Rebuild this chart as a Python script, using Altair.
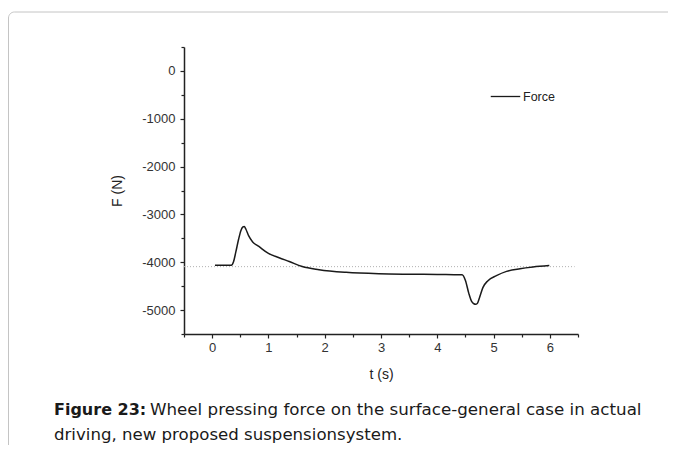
import altair as alt
import pandas as pd

# Data
t_values = [0.05, 0.20, 0.34, 0.38, 0.42, 0.47, 0.51, 0.545, 0.57, 0.60, 0.65, 0.72,
            0.83, 1.00, 1.19, 1.37, 1.60, 1.90, 2.38, 2.96, 3.50, 4.00, 4.30, 4.44,
            4.50, 4.56, 4.61, 4.65, 4.68, 4.71, 4.75, 4.81, 4.90, 5.05, 5.23, 5.47,
            5.70, 5.99]
force_values = [-4065, -4065, -4062, -3990, -3790, -3520, -3340, -3262, -3255, -3310,
                -3450, -3575, -3670, -3815, -3905, -3985, -4090, -4155, -4210, -4240,
                -4250, -4255, -4260, -4262, -4380, -4650, -4820, -4868, -4877, -4862,
                -4740, -4530, -4385, -4280, -4190, -4135, -4100, -4070]
series_name = ["Force"]
ref_level = [-4092]
ref_span = [-0.5, 6.44]

x_major = [0, 1, 2, 3, 4, 5, 6]
x_minor = [-0.5, 0.5, 1.5, 2.5, 3.5, 4.5, 5.5, 6.5]
y_major = [-5000, -4000, -3000, -2000, -1000, 0]
y_minor = [-5500, -4500, -3500, -2500, -1500, -500, 500]

caption_bold = ["Figure 23:"]
caption_line1 = ["Wheel pressing force on the surface-general case in actual"]
caption_line2 = ["driving, new proposed suspensionsystem."]

df = pd.DataFrame({"t": t_values, "F": force_values, "series": series_name * len(t_values)})
ref_df = pd.DataFrame({"x": [ref_span[0]], "x2": [ref_span[1]], "y": ref_level})

LABEL_FONT = "Liberation Sans, Arial, sans-serif"
x_scale = alt.Scale(domain=[-0.5, 6.5], nice=False, zero=False)
y_scale = alt.Scale(domain=[-5500, 500], nice=False, zero=False)

axis_common = dict(grid=False, domainColor="#222", domainWidth=1.5, tickColor="#222",
                   tickWidth=1.2, labelFont=LABEL_FONT, labelFontSize=13, labelColor="#333",
                   titleFont=LABEL_FONT, titleFontSize=14, titleFontWeight="normal",
                   titleColor="#222", labelExpr="'' + datum.value")

x_axis = alt.Axis(values=x_major, tickSize=4, labelPadding=3, title="t (s)",
                  titlePadding=13, orient="bottom", **axis_common)
y_axis = alt.Axis(values=y_major, tickSize=4, labelPadding=5, title="F (N)",
                  titlePadding=17, orient="left", **axis_common)
x_axis_minor = alt.Axis(values=x_minor, labels=False, domain=False, tickSize=3, title=None,
                        grid=False, tickColor="#222", tickWidth=1.2, orient="bottom")
y_axis_minor = alt.Axis(values=y_minor, labels=False, domain=False, tickSize=3, title=None,
                        grid=False, tickColor="#222", tickWidth=1.2, orient="left")

line = alt.Chart(df).mark_line(strokeWidth=1.5, interpolate="monotone").encode(
    x=alt.X("t:Q", scale=x_scale, axis=x_axis),
    y=alt.Y("F:Q", scale=y_scale, axis=y_axis),
    color=alt.Color("series:N", scale=alt.Scale(range=["#1a1a1a"]),
                    legend=alt.Legend(title=None, orient="none", legendX=306, legendY=34,
                                      padding=0, symbolType="stroke", symbolSize=870,
                                      symbolStrokeWidth=1.3, labelFont=LABEL_FONT,
                                      labelFontSize=12.5, labelColor="#222", labelOffset=2)),
)

ref = alt.Chart(ref_df).mark_rule(color="#b0b0b0", strokeDash=[1, 2], strokeWidth=1).encode(
    x=alt.X("x:Q", axis=x_axis_minor),
    x2="x2:Q",
    y=alt.Y("y:Q", axis=y_axis_minor),
)

one = alt.Data(values=[{}])
border = alt.Chart(one).mark_rect(fillOpacity=0, stroke="#c4c4c4", strokeWidth=1,
                                  cornerRadius=6).encode(
    x=alt.value(-175.5), x2=alt.value(520), y=alt.value(-35), y2=alt.value(430)
)

cap_style = dict(align="left", baseline="alphabetic", font="DejaVu Sans",
                 color="#1a1a1a")
cap_df = pd.DataFrame({"b": caption_bold, "l1": caption_line1, "l2": caption_line2})
cap_bold = alt.Chart(cap_df).mark_text(fontWeight="bold", fontSize=16, **cap_style).encode(
    text="b:N", x=alt.value(-130), y=alt.value(368))
cap_l1 = alt.Chart(cap_df).mark_text(fontSize=16.7, **cap_style).encode(
    text="l1:N", x=alt.value(-34), y=alt.value(368))
cap_l2 = alt.Chart(cap_df).mark_text(fontSize=16.6, **cap_style).encode(
    text="l2:N", x=alt.value(-130), y=alt.value(393))

chart = alt.layer(border, ref, line, cap_bold, cap_l1, cap_l2).resolve_axis(
    x="independent", y="independent"
).properties(
    width=394, height=287,
    autosize=alt.AutoSizeParams(type="none"),
    padding={"left": 176, "top": 39, "right": 90, "bottom": 111},
).configure_view(stroke=None)

chart.save("out.html", embed_options={"renderer": "svg", "actions": False})
